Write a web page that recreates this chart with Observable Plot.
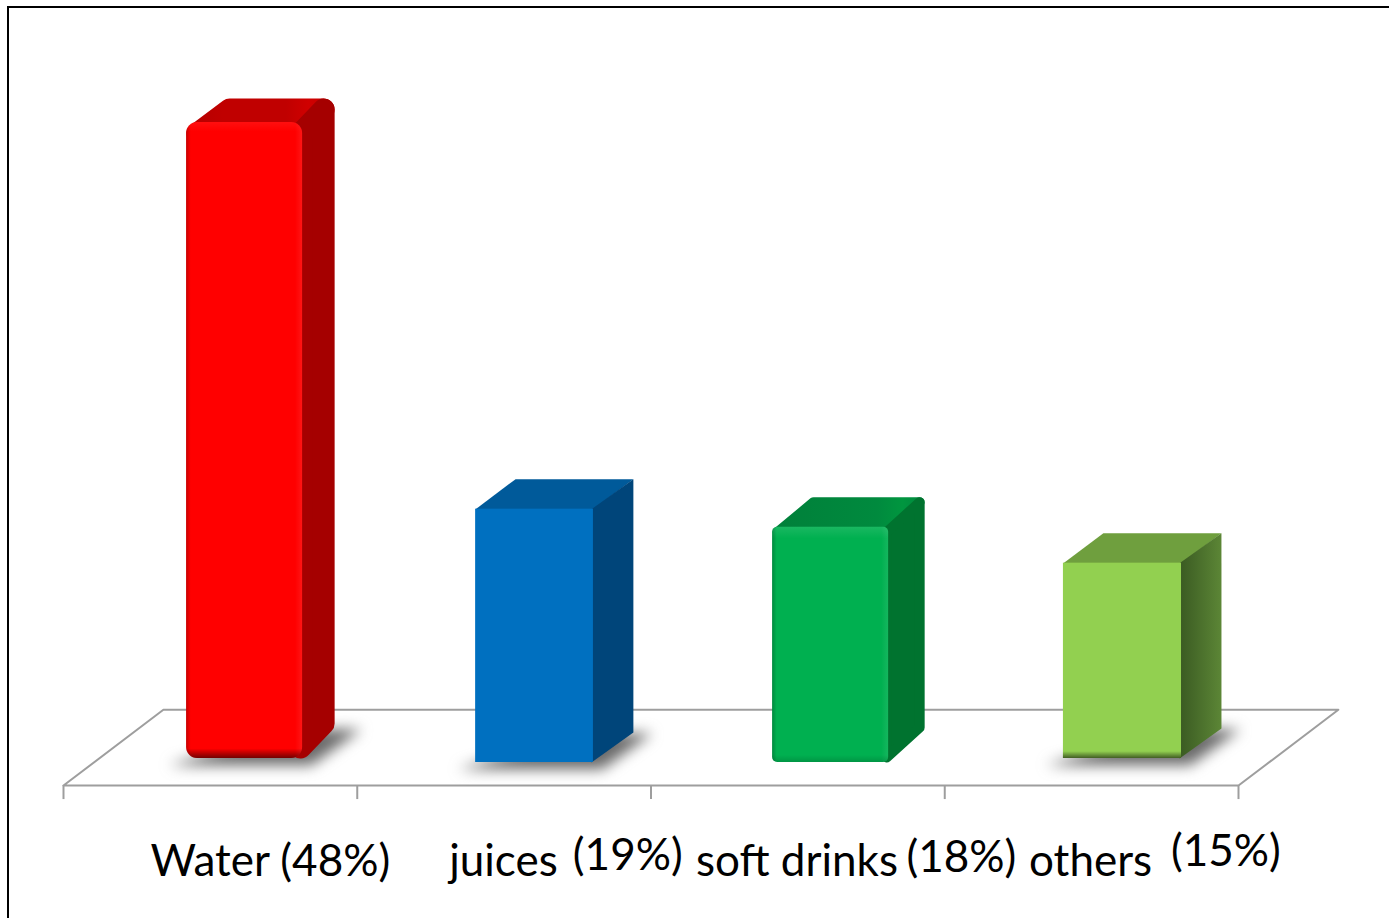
<!DOCTYPE html>
<html><head><meta charset="utf-8">
<style>html,body{margin:0;padding:0;background:#fff;overflow:hidden}svg{display:block}</style>
<script src="https://cdn.jsdelivr.net/npm/d3@7"></script>
<script src="https://cdn.jsdelivr.net/npm/@observablehq/plot@0.6"></script>
</head><body><script>
// ---- data ----
const categories = ["Water", "juices", "soft drinks", "others"];
const shares = [48, 19, 18, 15];            // printed labels (%)
const barHeights = [48, 19, 17.65, 14.95];  // bar heights as drawn (%)
const labelTexts = ["Water (48%)", "juices", "(19%)", "soft drinks", "(18%)", "others", "(15%)"];
const tickValues = [0, 1, 2, 3, 4];

// ---- layout in data units (x: category slots, y: percent) ----
const slotStart = [0.419, 1.403, 2.414, 3.404];
const slotEnd = [0.814, 1.804, 2.809, 3.806];
const depthX = [0.109, 0.136, 0.1226, 0.136];
const depthY = [1.8, 2.25, 2.25, 2.25];
const baseY = [0.3, 0, 0, 0.3];
const corner = [11, 0, 5, 0, 0];            // corner radius (px)
const frontColor = ["#ff0000", "#0070c0", "#00b050", "#92d050"];
const topColor = ["url(#lgTopRed)", "#005a9a", "url(#lgTopGreen)", "#6f9f3e"];
const sideColor = ["#a50000", "#00457a", "#00732f", "url(#lgSide)"];
const hasShadow = [true, true, false, true];
const labelX = [0.296, 1.313, 1.734, 2.153, 2.870, 3.287, 3.770];
const labelY = [-8.53, -8.53, -8.08, -8.53, -8.18, -8.53, -7.73];
const floorY = {front: -1.73, back: 3.96};
const floorShift = 0.34;

const bars = categories.map((name, i) => ({
  name, share: shares[i], l: slotStart[i], r: slotEnd[i], h: barHeights[i],
  b: baseY[i], dx: depthX[i], dy: depthY[i], rad: corner[i],
  front: frontColor[i], top: topColor[i], side: sideColor[i], shadow: hasShadow[i], i
}));

const poly = (pts) => pts.map(([x, y]) => ({x, y}));
const UX = 1 / 293.75, UY = 1 / 13.33;     // one pixel in data units
const shape = (pts, fill, rad, extra = {}) => Plot.line(poly(pts), {
  x: "x", y: "y", curve: "linear-closed", fill, stroke: rad ? fill : "none",
  strokeWidth: rad * 2, strokeLinejoin: "round", ...extra
});

const ns = "http://www.w3.org/2000/svg";
function defs() {
  const d = document.createElementNS(ns, "defs");
  d.innerHTML = `
  <linearGradient id="lgSide" x1="0" x2="1" y1="0" y2="0"><stop offset="0" stop-color="#3a5a22"/><stop offset="1" stop-color="#5c8636"/></linearGradient>
  <linearGradient id="lgTopRed" x1="0" x2="1" y1="0" y2="0"><stop offset="0" stop-color="#b80000"/><stop offset=".2" stop-color="#c00000"/><stop offset=".7" stop-color="#c00000"/><stop offset=".88" stop-color="#d00000"/><stop offset="1" stop-color="#c80000"/></linearGradient>
  <linearGradient id="lgTopGreen" x1="0" x2="1" y1="0" y2="0"><stop offset="0" stop-color="#00803a"/><stop offset=".7" stop-color="#008a3e"/><stop offset=".88" stop-color="#00963f"/><stop offset="1" stop-color="#008a3e"/></linearGradient>
  <linearGradient id="bevelV0" x1="0" x2="0" y1="0" y2="1"><stop offset="0" stop-color="#fff" stop-opacity=".06"/><stop offset=".015" stop-color="#fff" stop-opacity="0"/><stop offset=".985" stop-color="#000" stop-opacity="0"/><stop offset="1" stop-color="#000" stop-opacity=".55"/></linearGradient>
  <linearGradient id="bevelV2" x1="0" x2="0" y1="0" y2="1"><stop offset="0" stop-color="#fff" stop-opacity=".1"/><stop offset=".05" stop-color="#fff" stop-opacity="0"/><stop offset=".97" stop-color="#000" stop-opacity="0"/><stop offset="1" stop-color="#000" stop-opacity=".15"/></linearGradient>
  <linearGradient id="bevelV3" x1="0" x2="0" y1="0" y2="1"><stop offset="0" stop-color="#000" stop-opacity="0"/><stop offset=".965" stop-color="#000" stop-opacity="0"/><stop offset="1" stop-color="#000" stop-opacity=".55"/></linearGradient>
  <linearGradient id="bevelH" x1="0" x2="1" y1="0" y2="0"><stop offset="0" stop-color="#000" stop-opacity=".22"/><stop offset=".04" stop-color="#000" stop-opacity="0"/><stop offset=".94" stop-color="#fff" stop-opacity="0"/><stop offset="1" stop-color="#fff" stop-opacity=".08"/></linearGradient>`;
  return d;
}

const barMarks = (d) => {
  const {l, r, h, b, dx, dy, rad} = d, ix = rad * UX, iy = rad * UY;
  const marks = [];
  // top face
  marks.push(shape([[l + ix, h - iy], [l + dx + ix, h + dy - iy], [r + dx - ix, h + dy - iy], [r - ix, h - iy]], d.top, rad));
  // side face
  marks.push(shape([[r - 2 * UX, h - iy], [r + dx - ix, h + dy - iy], [r + dx - ix, b + dy + iy], [r - 2 * UX, b + iy]], d.side, rad));
  // front face
  const rectOpts = {x1: "l", x2: "r", y1: "b", y2: "h", rx: rad, ry: rad};
  marks.push(Plot.rect([d], {...rectOpts, fill: d.front}));
  if (d.i === 0 || d.i === 2) marks.push(Plot.rect([d], {...rectOpts, fill: "url(#bevelH)"}));
  if (d.i !== 1) marks.push(Plot.rect([d], {...rectOpts, fill: `url(#bevelV${d.i})`}));
  return marks;
};

const shadowMarks = (d) => !d.shadow ? [] : [shape(
  [[d.l - 0.06, d.b - 0.5], [d.r + 0.03, d.b - 0.5], [d.r + 0.2, d.b + 2.2], [d.r - 0.05, d.b + 2.2]],
  "#6a6a6a", 0, {imageFilter: "blur(7px)"})];

const labels = labelTexts.map((text, i) => ({text, x: labelX[i], y: labelY[i]}));
const gridGray = "#9e9e9e";

const chart = Plot.plot({
  width: 1389, height: 918, margin: 0,
  style: {background: "#fff", overflow: "visible"},
  x: {type: "linear", domain: [0, 4], range: [63, 1238], axis: null},
  y: {type: "linear", domain: [0, 48], range: [762, 122], axis: null},
  marks: [
    defs,
    Plot.frame({stroke: "#000", strokeWidth: 2, insetLeft: 7.5, insetTop: 6.5, insetRight: -6, insetBottom: -6}),
    Plot.line(poly([[0, floorY.front], [floorShift, floorY.back], [4 + floorShift, floorY.back], [4, floorY.front]]),
      {x: "x", y: "y", curve: "linear-closed", stroke: gridGray, strokeWidth: 2, fill: "#fff"}),
    Plot.ruleX(tickValues, {y1: floorY.front, y2: floorY.front - 1.05, stroke: gridGray, strokeWidth: 2}),
    ...bars.flatMap(shadowMarks),
    ...bars.flatMap(barMarks),
    Plot.text(labels, {x: "x", y: "y", text: "text", textAnchor: "start", fontSize: 44,
      fontFamily: "Lato, 'Noto Sans', sans-serif", fill: "#000", lineAnchor: "bottom"})
  ]
});
document.body.appendChild(chart);
</script></body></html>
